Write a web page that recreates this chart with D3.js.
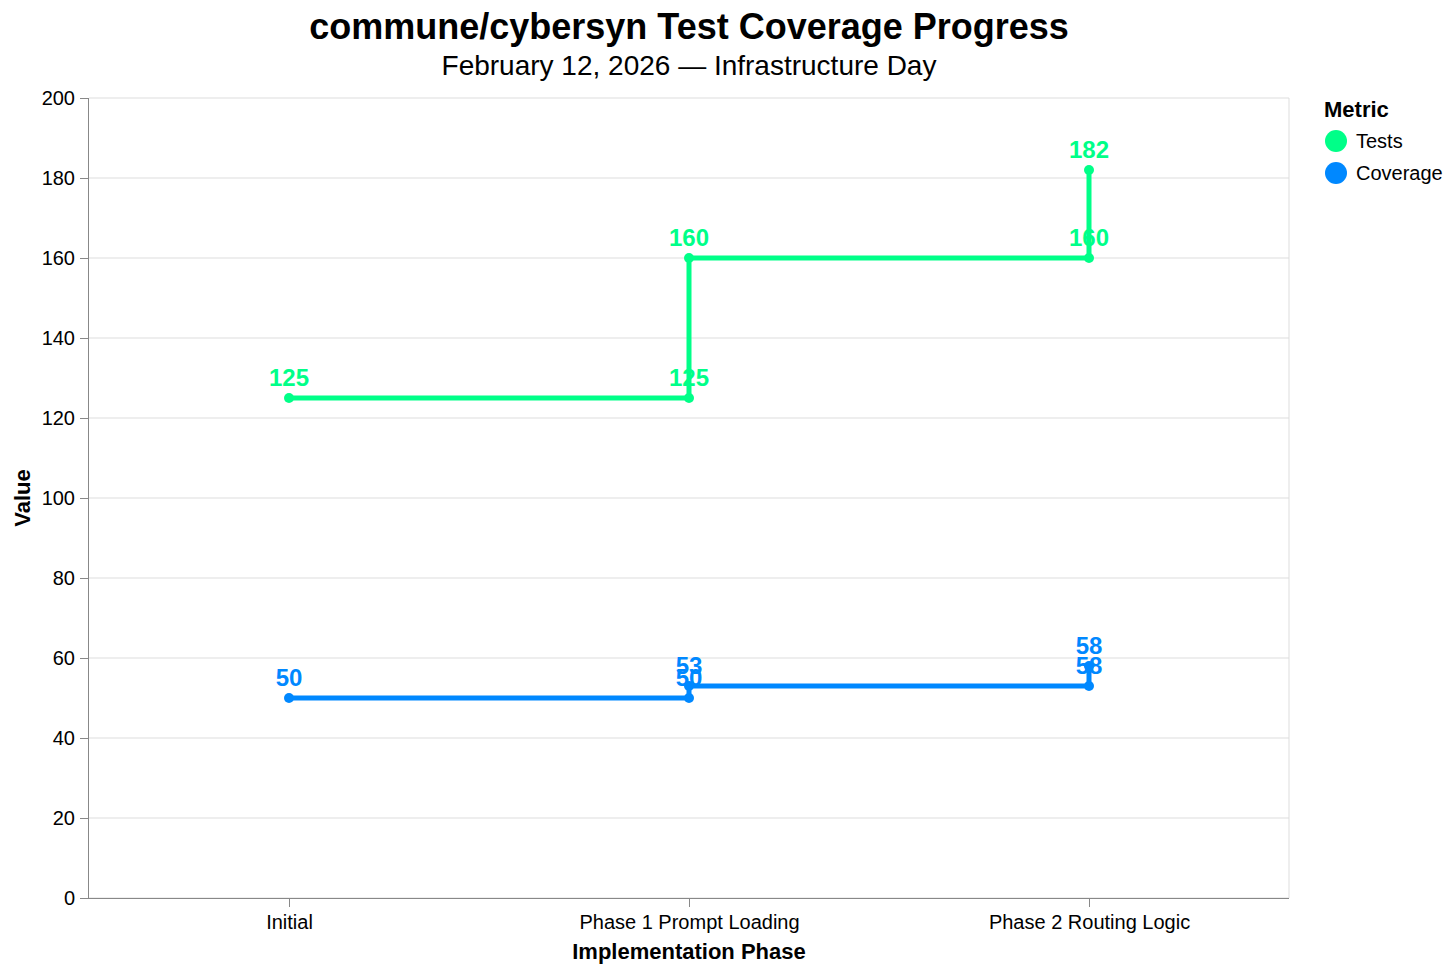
<!DOCTYPE html>
<html>
<head>
<meta charset="utf-8">
<script src="https://cdn.jsdelivr.net/npm/d3@7"></script>
<style>
  body { margin: 0; background: #fff; }
  svg { font-family: "Liberation Sans", Arial, Helvetica, sans-serif; }
</style>
</head>
<body>
<svg id="chart" width="1454" height="972"></svg>
<script>
const phases = ["Initial", "Phase 1 Prompt Loading", "Phase 2 Routing Logic"];

// step points per metric (phase, value, shown label)
const testsPhase = ["Initial", "Phase 1 Prompt Loading", "Phase 1 Prompt Loading", "Phase 2 Routing Logic", "Phase 2 Routing Logic"];
const testsValues = [125, 125, 160, 160, 182];
const testsLabels = ["125", "125", "160", "160", "182"];

const coveragePhase = ["Initial", "Phase 1 Prompt Loading", "Phase 1 Prompt Loading", "Phase 2 Routing Logic", "Phase 2 Routing Logic"];
const coverageValues = [50, 50, 53, 53, 58];
const coverageLabels = ["50", "50", "53", "58", "58"];

const metrics = ["Tests", "Coverage"];
const metricColors = ["#00ff88", "#0088ff"];
const yTicks = [0, 20, 40, 60, 80, 100, 120, 140, 160, 180, 200];

const series = [
  { name: "Tests", pts: testsPhase.map((p, i) => ({ phase: p, value: testsValues[i], label: testsLabels[i] })) },
  { name: "Coverage", pts: coveragePhase.map((p, i) => ({ phase: p, value: coverageValues[i], label: coverageLabels[i] })) }
];

const svg = d3.select("#chart");
const margin = { left: 89, top: 98, right: 165, bottom: 74 };
const width = 1454 - margin.left - margin.right;
const height = 972 - margin.top - margin.bottom;

const x = d3.scalePoint().domain(phases).range([0, width]).padding(0.5);
const y = d3.scaleLinear().domain([0, 200]).range([height, 0]);
const color = d3.scaleOrdinal().domain(metrics).range(metricColors);

const g = svg.append("g").attr("transform", `translate(${margin.left},${margin.top})`);

// grid
g.append("g")
  .selectAll("line")
  .data(yTicks)
  .enter()
  .append("line")
  .attr("x1", 0)
  .attr("x2", width)
  .attr("y1", d => y(d))
  .attr("y2", d => y(d))
  .attr("stroke", "#ddd")
  .attr("stroke-width", 1);

g.append("line")
  .attr("x1", width).attr("x2", width)
  .attr("y1", 0).attr("y2", height)
  .attr("stroke", "#ddd");

// axes
const xAxis = g.append("g")
  .attr("transform", `translate(0,${height})`)
  .call(d3.axisBottom(x).tickSize(9).tickPadding(8));
const yAxis = g.append("g")
  .call(d3.axisLeft(y).tickValues(yTicks).tickSize(9).tickPadding(5));

[xAxis, yAxis].forEach(a => {
  a.select(".domain").attr("stroke", "#888");
  a.selectAll(".tick line").attr("stroke", "#888");
  a.selectAll(".tick text")
    .attr("fill", "#000")
    .attr("font-size", 20)
    .attr("font-family", "Liberation Sans, Arial, sans-serif");
});
xAxis.select(".domain").attr("d", `M0,0.5H${width}`);
yAxis.select(".domain").attr("d", `M-0.5,0V${height}`);

// axis titles
svg.append("text")
  .attr("x", margin.left + width / 2)
  .attr("y", 959)
  .attr("text-anchor", "middle")
  .attr("font-size", 22)
  .attr("font-weight", "bold")
  .text("Implementation Phase");

svg.append("text")
  .attr("transform", `translate(30,${margin.top + height / 2}) rotate(-90)`)
  .attr("text-anchor", "middle")
  .attr("font-size", 22)
  .attr("font-weight", "bold")
  .text("Value");

// lines
const line = d3.line()
  .x(d => x(d.phase))
  .y(d => y(d.value));

const sg = g.selectAll(".series")
  .data(series)
  .enter()
  .append("g")
  .attr("class", "series");

sg.append("path")
  .attr("d", d => line(d.pts))
  .attr("fill", "none")
  .attr("stroke", d => color(d.name))
  .attr("stroke-width", 5);

sg.selectAll("circle")
  .data(d => d.pts.map(p => ({ ...p, name: d.name })))
  .enter()
  .append("circle")
  .attr("cx", d => x(d.phase))
  .attr("cy", d => y(d.value))
  .attr("r", 5)
  .attr("fill", d => color(d.name));

sg.selectAll("text")
  .data(d => d.pts.map(p => ({ ...p, name: d.name })))
  .enter()
  .append("text")
  .attr("x", d => x(d.phase))
  .attr("y", d => y(d.value) - 12)
  .attr("text-anchor", "middle")
  .attr("font-size", 24)
  .attr("font-weight", "bold")
  .attr("fill", d => color(d.name))
  .text(d => d.label);

// title
svg.append("text")
  .attr("x", margin.left + width / 2)
  .attr("y", 39)
  .attr("text-anchor", "middle")
  .attr("font-size", 36)
  .attr("font-weight", "bold")
  .text("commune/cybersyn Test Coverage Progress");

svg.append("text")
  .attr("x", margin.left + width / 2)
  .attr("y", 75)
  .attr("text-anchor", "middle")
  .attr("font-size", 28)
  .text("February 12, 2026 \u2014 Infrastructure Day");

// legend
const legend = svg.append("g").attr("transform", "translate(1324,0)");
legend.append("text")
  .attr("x", 0)
  .attr("y", 117)
  .attr("font-size", 22)
  .attr("font-weight", "bold")
  .text("Metric");

const li = legend.selectAll(".item")
  .data(metrics)
  .enter()
  .append("g")
  .attr("transform", (d, i) => `translate(0,${141 + i * 32})`);
li.append("circle")
  .attr("cx", 12)
  .attr("cy", 0)
  .attr("r", 11)
  .attr("fill", d => color(d));
li.append("text")
  .attr("x", 32)
  .attr("y", 7)
  .attr("font-size", 20)
  .text(d => d);
</script>
</body>
</html>
